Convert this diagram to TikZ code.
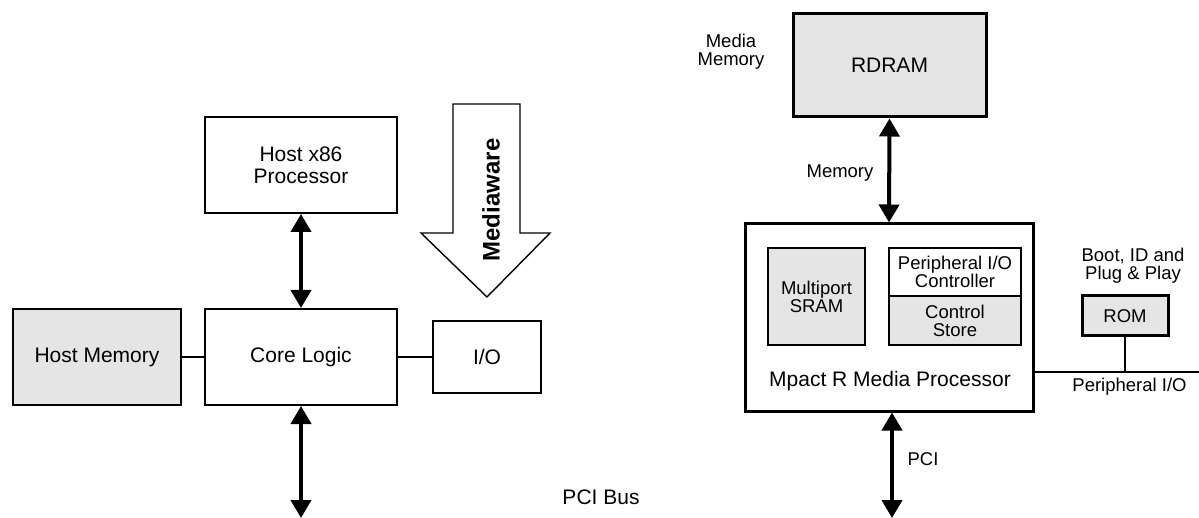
\documentclass[tikz,border=0pt]{standalone}
\usepackage{fontspec}
\setmainfont{Liberation Sans}
\usetikzlibrary{arrows.meta}
\tikzset{
  blk/.style={draw, line width=2pt, inner sep=0pt, align=center, font=\fontsize{21}{22}\selectfont},
  thickblk/.style={blk, line width=3pt},
  grayfill/.style={fill=black!10},
  smfont/.style={font=\fontsize{18.5}{18}\selectfont},
  lbl/.style={inner sep=0pt, align=center, smfont},
  biglbl/.style={inner sep=0pt, align=center, font=\fontsize{21}{22}\selectfont},
  link/.style={line width=2pt},
  biarrow/.style={line width=4pt, {Triangle[width=20pt,length=18pt]}-{Triangle[width=20pt,length=18pt]}},
  bigarrow/.style={draw, line width=1.4pt, line join=miter}
}
\begin{document}
\begin{tikzpicture}[x=1pt,y=-1pt]
\useasboundingbox (0,0) rectangle (1199,518);

% ---- left: host system ----
\node[blk, minimum width=192pt, minimum height=96pt] (hx86) at (301,165) {Host x86\\Processor};
\node[blk, minimum width=192pt, minimum height=96pt] (core) at (301,357) {Core Logic};
\node[blk, grayfill, minimum width=168pt, minimum height=96pt] (hmem) at (97,357) {Host Memory};
\node[blk, minimum width=108pt, minimum height=72pt] (io) at (487,357) {I/O};
\coordinate (pcibot) at (301,518);

\draw[biarrow] (hx86.south) -- (core.north);
\draw[biarrow] (core.south) -- (pcibot);
\draw[link] (hmem.east) -- (core.west);
\draw[link] (core.east) -- (io.west);

% Mediaware arrow
\draw[bigarrow] (453,104) -- (520,104) -- (520,233) -- (550,233) -- (487,297) -- (421,233) -- (453,233) -- cycle;
\node[rotate=90, inner sep=0pt, font=\bfseries\fontsize{24}{24}\selectfont] (mw) at (491,200) {Mediaware};

\node[biglbl] (pcibus) at (601,497) {PCI Bus};

% ---- right: Mpact board ----
\node[thickblk, grayfill, minimum width=193pt, minimum height=103pt] (rdram) at (889.5,65.5) {RDRAM};
\node[lbl] (medmem) at (731,52) {Media\\Memory};
\node[thickblk, minimum width=288pt, minimum height=187pt] (mpact) at (889,317.5) {};
\node[biglbl] (mpactlbl) at (890,381) {Mpact R Media Processor};
\node[blk, grayfill, smfont, minimum width=97pt, minimum height=97pt] (sram) at (816.5,296.5) {Multiport\\SRAM};
\node[blk, smfont, minimum width=132pt, minimum height=48pt] (pioc) at (955,272) {Peripheral I/O\\Controller};
\node[blk, grayfill, smfont, minimum width=132pt, minimum height=49pt] (cstore) at (955,320.5) {Control\\Store};
\node[thickblk, grayfill, smfont, minimum width=86pt, minimum height=40pt] (rom) at (1125,316) {ROM};
\node[lbl] (boot) at (1133,266) {Boot, ID and\\Plug \& Play};

\draw[biarrow] (rdram.south) -- (mpact.north);
\node[lbl] (memlbl) at (840,173) {Memory};

\coordinate (mpcibot) at (892,518);
\draw[biarrow] ([xshift=3pt]mpact.south) -- (mpcibot);
\node[lbl] (pcilbl) at (923,459) {PCI};

\coordinate (pend) at (1199,372);
\draw[link] (mpact.east |- pend) -- (pend);
\draw[link] (rom.south) -- (rom.south |- pend);
\node[lbl] (perlbl) at (1129.5,387) {Peripheral I/O};
\end{tikzpicture}
\end{document}
